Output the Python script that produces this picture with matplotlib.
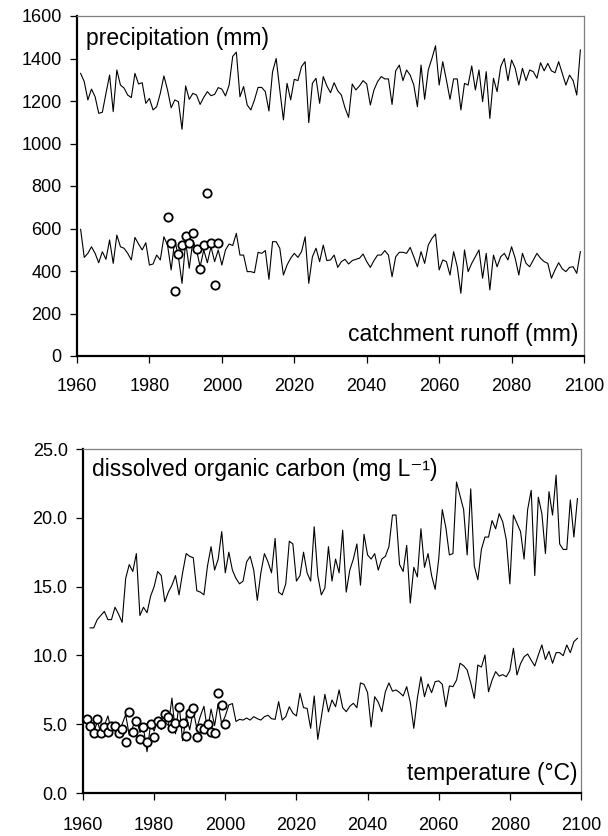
#!/usr/bin/env python3


# +
# import(s)
# -
import numpy as np

import matplotlib as mpl
mpl.use('Agg')
import matplotlib.pyplot as plt


# +
# data
# -
PRECIP_START = 1961
precip = [1330, 1291, 1205, 1256, 1220, 1142, 1147, 1236, 1322, 1150,
          1346, 1275, 1261, 1228, 1216, 1330, 1280, 1286, 1189, 1212,
          1158, 1173, 1236, 1318, 1252, 1168, 1205, 1197, 1067, 1271,
          1208, 1236, 1228, 1184, 1217, 1244, 1225, 1231, 1263, 1256,
          1224, 1275, 1410, 1430, 1220, 1268, 1181, 1158, 1205, 1264,
          1264, 1244, 1153, 1338, 1400, 1252, 1111, 1283, 1205, 1302,
          1296, 1362, 1385, 1098, 1283, 1307, 1189, 1315, 1271, 1239,
          1286, 1248, 1228, 1168, 1123, 1280, 1252, 1271, 1296, 1280,
          1181, 1252, 1291, 1315, 1304, 1304, 1184, 1342, 1369, 1296,
          1346, 1322, 1275, 1173, 1369, 1208, 1346, 1400, 1460, 1275,
          1385, 1299, 1208, 1304, 1304, 1158, 1283, 1275, 1365, 1252,
          1346, 1197, 1338, 1118, 1307, 1244, 1362, 1400, 1296, 1393,
          1354, 1275, 1354, 1296, 1346, 1338, 1307, 1380, 1342, 1377,
          1342, 1333, 1385, 1330, 1275, 1322, 1296, 1228, 1440]

runoff = [596, 464, 483, 514, 483, 439, 491, 455, 546, 436,
          569, 514, 507, 483, 452, 558, 527, 499, 533, 428,
          433, 475, 452, 561, 522, 405, 546, 467, 342, 538,
          413, 543, 499, 420, 499, 439, 514, 444, 499, 428,
          499, 527, 520, 577, 475, 475, 397, 397, 392, 488,
          483, 496, 361, 538, 538, 507, 381, 428, 460, 483,
          464, 491, 561, 342, 467, 507, 444, 522, 449, 452,
          475, 417, 444, 455, 433, 449, 455, 460, 480, 444,
          417, 449, 475, 475, 496, 475, 373, 467, 488, 488,
          483, 511, 467, 420, 491, 436, 522, 553, 574, 405,
          452, 444, 381, 491, 420, 295, 499, 397, 436, 467,
          499, 366, 483, 311, 475, 420, 467, 483, 452, 514,
          460, 381, 483, 436, 420, 452, 483, 460, 444, 436,
          366, 405, 439, 410, 397, 417, 420, 389, 491]

obs_runoff_years = list(range(1985, 2000))
obs_runoff = [655, 530, 307, 480, 524, 565, 530, 577, 505, 408, 524, 767, 530, 333, 530]

DOC_START = 1962
doc = [12.0, 12.0, 12.6, 12.9, 13.2, 12.6, 12.6, 13.5, 13.0, 12.4,
       15.6, 16.6, 16.1, 17.4, 12.9, 13.5, 13.1, 14.3, 15.0, 16.1,
       15.8, 13.9, 14.6, 15.1, 15.8, 14.4, 16.0, 17.4, 17.2, 17.1,
       14.7, 14.6, 14.4, 16.5, 17.9, 16.2, 17.0, 19.0, 16.0, 17.5,
       16.2, 15.6, 15.2, 15.4, 16.8, 17.2, 16.2, 14.0, 16.0, 17.4,
       16.8, 16.0, 18.5, 14.6, 14.4, 15.2, 18.3, 18.1, 15.4, 15.8,
       17.5, 16.0, 15.4, 19.35, 15.8, 14.4, 14.9, 17.9, 15.4, 17.0,
       16.0, 19.1, 14.6, 16.2, 17.0, 18.1, 15.1, 18.8, 17.3, 17.0,
       17.4, 16.2, 17.0, 17.2, 17.9, 20.2, 20.2, 16.6, 16.1, 18.0,
       13.8, 16.4, 15.7, 19.2, 16.4, 17.4, 15.8, 14.8, 17.0, 20.6,
       19.3, 17.3, 17.4, 22.6, 21.6, 20.6, 17.3, 22.1, 16.5, 15.5,
       17.7, 18.6, 18.6, 19.8, 19.2, 20.3, 19.7, 18.4, 15.2, 20.2,
       19.6, 19.0, 17.0, 20.6, 22.0, 15.8, 21.5, 20.3, 17.4, 21.9,
       20.2, 23.1, 18.1, 17.7, 17.7, 21.3, 18.6, 21.4]

TEMP_START = 1961
temp = [5.4, 4.8, 4.3, 5.2, 4.4, 4.9, 5.6, 4.5, 4.9, 4.3,
        5.0, 5.7, 4.2, 4.8, 5.5, 4.4, 4.7, 3.0, 5.0, 4.5,
        5.3, 4.6, 5.2, 4.9, 6.9, 4.3, 6.5, 3.8, 5.6, 4.6,
        6.0, 4.7, 5.6, 6.3, 4.5, 6.1, 4.9, 6.5, 5.0, 5.6,
        6.4, 6.5, 5.2, 5.35, 5.3, 5.45, 5.3, 5.55, 5.4, 5.3,
        5.55, 5.65, 5.4, 5.35, 6.64, 5.3, 5.55, 6.27, 5.8, 5.6,
        7.25, 6.2, 6.15, 4.7, 7.05, 3.9, 5.5, 7.17, 5.9, 6.76,
        6.27, 7.49, 6.2, 5.91, 6.3, 6.52, 6.2, 8.0, 7.9, 7.3,
        4.8, 7.0, 6.6, 5.91, 7.36, 8.0, 7.4, 7.49, 7.3, 7.05,
        7.73, 6.6, 4.7, 6.9, 8.45, 7.0, 7.92, 7.29, 8.09, 8.15,
        7.9, 6.27, 7.78, 7.73, 8.2, 9.43, 9.25, 8.94, 8.0, 6.88,
        9.3, 9.15, 10.03, 7.36, 8.2, 8.82, 8.5, 8.6, 8.45, 8.9,
        10.52, 8.58, 9.4, 9.9, 10.1, 9.65, 9.23, 10.03, 10.76, 9.7,
        10.3, 9.43, 10.2, 10.2, 9.98, 10.76, 10.2, 11.0, 11.24]

obs_temp_years = list(range(1961, 2001))
obs_temp = [5.38, 4.89, 4.38, 5.38, 4.38, 4.82, 4.45, 4.89, 4.89, 4.34,
            4.63, 3.7, 5.89, 4.45, 5.23, 3.9, 4.82, 3.7, 5.0, 4.1,
            5.23, 5.0, 5.74, 5.55, 4.75, 5.11, 6.27, 5.11, 4.14, 5.84,
            6.15, 4.1, 4.75, 4.63, 5.0, 4.45, 4.38, 7.29, 6.4, 5.0]

top_yticks = [0, 200, 400, 600, 800, 1000, 1200, 1400, 1600]
bot_yticks = [0.0, 5.0, 10.0, 15.0, 20.0, 25.0]
xticks = [1960, 1980, 2000, 2020, 2040, 2060, 2080, 2100]


# +
# style
# -
plt.rcParams['font.family'] = ['Liberation Sans', 'DejaVu Sans']
FS_TICK = 13
FS_LABEL = 16.5


def style_axes(ax, xpad):
    for side in ('left', 'bottom'):
        ax.spines[side].set_linewidth(1.6)
        ax.spines[side].set_color('black')
    for side in ('top', 'right'):
        ax.spines[side].set_linewidth(0.9)
        ax.spines[side].set_color('#7f7f7f')
    ax.tick_params(axis='both', direction='out', length=5, width=0.9,
                   labelsize=FS_TICK, top=False, right=False, pad=6)
    ax.tick_params(axis='x', pad=xpad)
    ax.set_xlim(1960, 2100)
    ax.set_xticks(xticks)


def draw_obs(ax, x, y):
    ax.plot(x, y, linestyle='none', marker='o', markersize=6,
            markerfacecolor='white', markeredgecolor='black',
            markeredgewidth=1.3, zorder=3)


fig = plt.figure(figsize=(6.08, 8.36), dpi=100)

# +
# top panel: precipitation and runoff
# -
ax1 = fig.add_axes([77 / 608, 1 - 356 / 836, 507 / 608, 340 / 836])
yrs_p = np.arange(PRECIP_START, PRECIP_START + len(precip))
ax1.plot(yrs_p, precip, color='black', lw=0.8)
ax1.plot(yrs_p, runoff, color='black', lw=0.8)
draw_obs(ax1, obs_runoff_years, obs_runoff)
style_axes(ax1, xpad=11)
ax1.set_ylim(0, 1600)
ax1.set_yticks(top_yticks)
ax1.set_yticklabels([f"{v:d}" for v in top_yticks])
ax1.text(0.018, 0.935, 'precipitation (mm)', transform=ax1.transAxes,
         fontsize=FS_LABEL, ha='left', va='center')
ax1.text(0.988, 0.062, 'catchment runoff (mm)', transform=ax1.transAxes,
         fontsize=FS_LABEL, ha='right', va='center')

# +
# bottom panel: DOC and temperature
# -
ax2 = fig.add_axes([83 / 608, 1 - 793 / 836, 498 / 608, 344 / 836])
yrs_d = np.arange(DOC_START, DOC_START + len(doc))
yrs_t = np.arange(TEMP_START, TEMP_START + len(temp))
ax2.plot(yrs_d, doc, color='black', lw=0.8)
ax2.plot(yrs_t, temp, color='black', lw=0.8)
draw_obs(ax2, obs_temp_years, obs_temp)
style_axes(ax2, xpad=12)
ax2.set_ylim(0, 25)
ax2.set_yticks(bot_yticks)
ax2.set_yticklabels([f"{v:.1f}" for v in bot_yticks])
ax2.text(0.018, 0.939, 'dissolved organic carbon (mg L\u207b\u00b9)', transform=ax2.transAxes,
         fontsize=FS_LABEL, ha='left', va='center')
ax2.text(0.992, 0.058, 'temperature (\u00b0C)', transform=ax2.transAxes,
         fontsize=FS_LABEL, ha='right', va='center')

# +
# output(s)
# -
fig.savefig('out.png', dpi=100)
